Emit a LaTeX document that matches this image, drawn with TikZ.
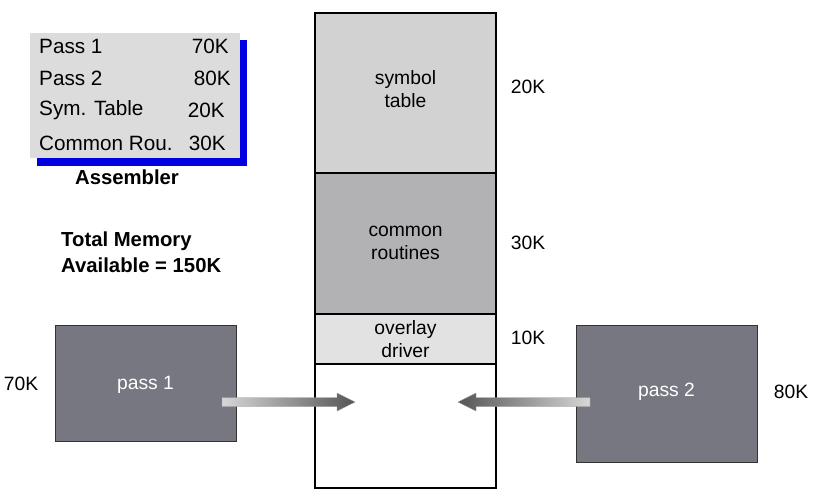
\documentclass[tikz,border=0pt]{standalone}
\usepackage{fontspec}
\setmainfont{Liberation Sans}
\usetikzlibrary{calc}
\definecolor{symc}{RGB}{210,210,210}
\definecolor{comc}{RGB}{178,178,180}
\definecolor{ovc}{RGB}{226,226,226}
\definecolor{passc}{RGB}{118,119,128}
\definecolor{asmc}{RGB}{220,220,220}
\definecolor{shadc}{RGB}{0,0,225}
\definecolor{arrdark}{RGB}{85,85,85}
\definecolor{arrlight}{RGB}{215,215,215}
\tikzset{
  memblock/.style={draw=black, line width=1.2pt},
  passbox/.style={draw=black!80, line width=0.9pt, fill=passc},
  txt/.style={font=\fontsize{19.3}{22.5}\selectfont, align=center},
  rowtxt/.style={font=\fontsize{20.7}{23}\selectfont, inner sep=0pt},
  boldtxt/.style={font=\fontsize{20.3}{23}\selectfont\bfseries, inner sep=0pt},
}
\begin{document}
\begin{tikzpicture}[x=1pt,y=-1pt]
\useasboundingbox (0,0) rectangle (814,490);
% Assembler table
\fill[shadc] (37,40) rectangle (247,166);
\fill[asmc] (30,33) rectangle (240,158);
\node[rowtxt, anchor=west] (p1l) at (39,46) {Pass 1};
\node[rowtxt, anchor=east] (p1v) at (229,46) {70K};
\node[rowtxt, anchor=west] (p2l) at (39,78) {Pass 2};
\node[rowtxt, anchor=east] (p2v) at (231,78) {80K};
\node[rowtxt, anchor=west] (stl) at (39,110) {Sym. Table};
\node[rowtxt, anchor=east] (stv) at (225,110) {20K};
\node[rowtxt, anchor=west] (crl) at (39,143) {Common Rou.};
\node[rowtxt, anchor=east] (crv) at (226,143) {30K};
\node[boldtxt] (asm) at (127,177) {Assembler};
\node[boldtxt, anchor=west] (tm1) at (61,241) {Total Memory};
\node[boldtxt, anchor=west] (tm2) at (61,265) {Available = 150K};
% memory column
\draw[memblock, fill=symc] (315,13) rectangle (496,173);
\draw[memblock, fill=comc] (315,173) rectangle (496,314);
\draw[memblock, fill=ovc] (315,314) rectangle (496,364);
\draw[memblock, fill=white] (315,364) rectangle (496,488);
\node[txt] (sym) at (405.5,89) {symbol\\table};
\node[txt] (com) at (405.5,243) {common\\routines};
\node[txt] (ovl) at (405.5,339) {overlay\\driver};
\coordinate (free) at (405.5,402);
\node[txt] (k20) at (528,87) {20K};
\node[txt] (k30) at (528,243) {30K};
\node[txt] (k10) at (528,338) {10K};
% pass boxes
\draw[passbox] (55,325) rectangle (236,441);
\node[txt, text=white] (pass1) at (145.5,385) {pass 1};
\node[txt] (k70) at (21,384) {70K};
\draw[passbox] (576,325) rectangle (757,462);
\node[txt, text=white] (pass2) at (666.5,392) {pass 2};
\node[txt] (k80) at (791,392) {80K};
% arrows
\coordinate (a1s) at (222,402);
\coordinate (a1e) at (355,402);
\coordinate (a2s) at (590,402);
\coordinate (a2e) at (458,402);
\shade[left color=arrlight, right color=arrdark, draw=arrdark!60, line width=0.3pt]
  ($(a1s)+(0,-4.5)$) -- ($(a1e)+(-18,-4.5)$) -- ($(a1e)+(-18,-9)$) -- (a1e)
  -- ($(a1e)+(-18,9)$) -- ($(a1e)+(-18,4.5)$) -- ($(a1s)+(0,4.5)$) -- cycle;
\shade[right color=arrlight, left color=arrdark, draw=arrdark!60, line width=0.3pt]
  ($(a2s)+(0,-4.5)$) -- ($(a2e)+(18,-4.5)$) -- ($(a2e)+(18,-9)$) -- (a2e)
  -- ($(a2e)+(18,9)$) -- ($(a2e)+(18,4.5)$) -- ($(a2s)+(0,4.5)$) -- cycle;
\end{tikzpicture}
\end{document}
